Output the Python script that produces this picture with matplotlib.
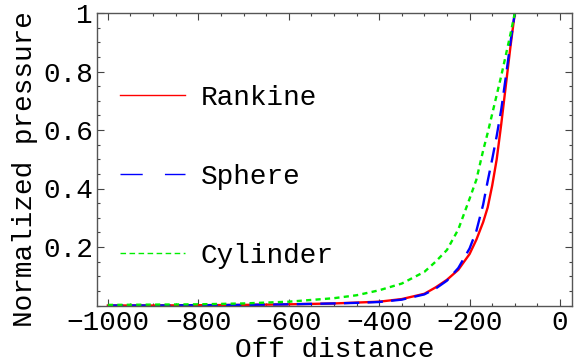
import matplotlib
matplotlib.use("Agg")
import matplotlib.pyplot as plt
from matplotlib.lines import Line2D
from matplotlib.ticker import MultipleLocator

# ================== 数据 ==================
off_distance = [-1000, -900, -800, -700, -600, -500, -450, -400, -350, -300,
                -275, -250, -225, -200, -185, -170, -160, -150, -140, -130,
                -120, -110, -100]
rankine = [0.000, 0.000, 0.001, 0.002, 0.004, 0.007, 0.010, 0.013, 0.022, 0.040,
           0.062, 0.088, 0.122, 0.176, 0.225, 0.285, 0.335, 0.410, 0.500, 0.620,
           0.750, 0.880, 1.000]
sphere = [0.000, 0.000, 0.001, 0.002, 0.004, 0.007, 0.009, 0.012, 0.020, 0.038,
          0.058, 0.085, 0.128, 0.195, 0.255, 0.345, 0.425, 0.500, 0.580, 0.670,
          0.780, 0.895, 1.000]
cylinder = [0.002, 0.003, 0.004, 0.007, 0.013, 0.025, 0.035, 0.052, 0.075, 0.115,
            0.150, 0.190, 0.260, 0.365, 0.430, 0.530, 0.590, 0.655, 0.720, 0.785,
            0.855, 0.925, 1.000]

x_ticks = [-1000, -800, -600, -400, -200, 0]
y_ticks = [0.2, 0.4, 0.6, 0.8, 1.0]
y_tick_labels = ['0.2', '0.4', '0.6', '0.8', '1']

plt.rcParams['font.family'] = ['Liberation Mono', 'DejaVu Sans']
plt.rcParams['font.size'] = 20

fig = plt.figure(figsize=(5.78, 3.62), dpi=100)
ax = fig.add_axes([97/578, 56.5/362, 475/578, 292.5/362])

ax.plot(off_distance, rankine, color='#ff0000', lw=1.7)
ax.plot(off_distance, sphere, color='#0000ff', lw=1.7, dashes=(6.5, 3.5))
ax.plot(off_distance, cylinder, color='#00ee00', lw=1.7, dashes=(2.2, 1.8))

ax.set_xlim(-1024, 26.5)
ax.set_ylim(0, 1)
ax.set_xticks(x_ticks)
ax.set_yticks(y_ticks)
ax.set_yticklabels(y_tick_labels)
ax.xaxis.set_minor_locator(MultipleLocator(50))
ax.yaxis.set_minor_locator(MultipleLocator(0.05))
ax.tick_params(which='both', direction='in', top=True, right=True,
               color='#444444', width=0.8)
ax.tick_params(which='major', length=5, pad=3)
ax.tick_params(which='minor', length=2.5)
for s in ax.spines.values():
    s.set_color('#555555')
    s.set_linewidth(1.0)

ax.set_xlabel('Off distance')
ax.set_ylabel('Normalized pressure')
ax.xaxis.set_label_coords(0.5, -0.152)
ax.xaxis.label.set_va('center')
ax.yaxis.set_label_coords(-0.152, 0.467)
ax.yaxis.label.set_va('center')

# 图例
handles = [
    Line2D([], [], color='#ff0000', lw=1.0),
    Line2D([], [], color='#0000ff', lw=1.0, dashes=(16, 16)),
    Line2D([], [], color='#00ee00', lw=1.0, dashes=(4, 2.5)),
]
ax.legend(handles, ['Rankine', 'Sphere', 'Cylinder'], frameon=False,
          loc='center left', bbox_to_anchor=(0.048, 0.44),
          handlelength=2.36, handletextpad=0.55, labelspacing=1.9,
          borderaxespad=0.0, borderpad=0.0)

fig.savefig('out.png', dpi=100)
